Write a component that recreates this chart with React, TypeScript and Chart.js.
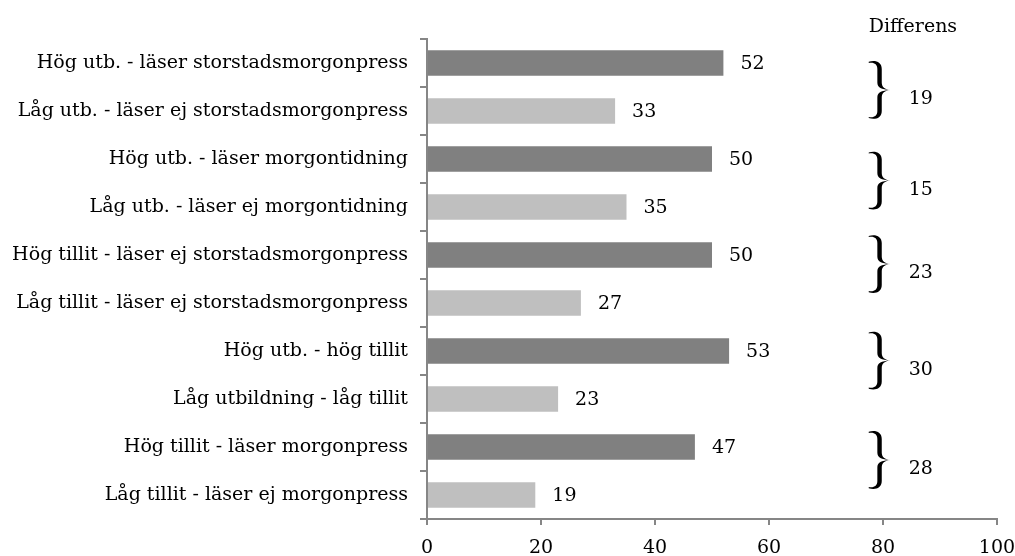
import React, { useEffect, useRef } from "react";
import { Chart, registerables } from "chart.js";

Chart.register(...registerables);

const categories = [
  "Hög utb. - läser storstadsmorgonpress",
  "Låg utb. - läser ej storstadsmorgonpress",
  "Hög utb. - läser morgontidning",
  "Låg utb. - läser ej morgontidning",
  "Hög tillit - läser ej storstadsmorgonpress",
  "Låg tillit - läser ej storstadsmorgonpress",
  "Hög utb. - hög tillit",
  "Låg utbildning - låg tillit",
  "Hög tillit - läser morgonpress",
  "Låg tillit - läser ej morgonpress",
];
const values = [52, 33, 50, 35, 50, 27, 53, 23, 47, 19];
const barColors = [
  "#808080", "#bfbfbf", "#808080", "#bfbfbf", "#808080",
  "#bfbfbf", "#808080", "#bfbfbf", "#808080", "#bfbfbf",
];
const diffValues = [19, 15, 23, 30, 28];
// brace centre positions, in category-index units
const bracePositions = [0.56, 2.45, 4.19, 6.2, 8.27];
const diffHeader = "Differens";
const xMin = 0;
const xMax = 100;
const xStep = 20;

const FONT = "'DejaVu Serif', serif";
const FSIZE = 19;
const AXIS = "#868686";

function drawBrace(ctx: CanvasRenderingContext2D, x: number, yTop: number) {
  // calligraphic right curly brace in a 22 x 58 box
  ctx.save();
  ctx.translate(x, yTop);
  ctx.beginPath();
  ctx.moveTo(0, 0.8);
  ctx.bezierCurveTo(6, -1.2, 13, 0.5, 13, 8);
  ctx.lineTo(13, 21.5);
  ctx.bezierCurveTo(13, 26, 16, 28.4, 21.5, 29);
  ctx.bezierCurveTo(16, 29.6, 13, 32, 13, 36.5);
  ctx.lineTo(13, 50);
  ctx.bezierCurveTo(13, 57.5, 6, 59.2, 0, 57.2);
  ctx.lineTo(0, 56);
  ctx.bezierCurveTo(5, 57, 8.6, 55, 8.6, 50);
  ctx.lineTo(8.6, 36.5);
  ctx.bezierCurveTo(8.6, 31.5, 12.5, 29.4, 21.5, 29);
  ctx.bezierCurveTo(12.5, 28.6, 8.6, 26.5, 8.6, 21.5);
  ctx.lineTo(8.6, 8);
  ctx.bezierCurveTo(8.6, 3, 5, 1, 0, 2);
  ctx.closePath();
  ctx.fillStyle = "#000";
  ctx.fill();
  ctx.restore();
}

const annotations = {
  id: "annotations",
  afterDatasetsDraw(chart: any) {
    const ctx = chart.ctx;
    const meta = chart.getDatasetMeta(0);
    ctx.save();
    ctx.font = `${FSIZE}px ${FONT}`;
    ctx.fillStyle = "#000";
    ctx.textAlign = "left";
    ctx.textBaseline = "middle";
    meta.data.forEach((bar: any, i: number) => {
      ctx.fillText(String(values[i]), bar.x + 17, bar.y + 1);
    });
    ctx.restore();
  },
  afterDraw(chart: any) {
    const ctx = chart.ctx;
    const xs = chart.scales.x;
    const ys = chart.scales.y;
    ctx.save();
    ctx.fillStyle = "#000";
    ctx.font = `${FSIZE}px ${FONT}`;
    ctx.textAlign = "left";
    ctx.textBaseline = "middle";
    const bx = xs.getPixelForValue(77.5);
    ctx.fillText(diffHeader, bx, 27);
    const nx = xs.getPixelForValue(84.5);
    bracePositions.forEach((p, i) => {
      const yc = ys.getPixelForValue(p);
      drawBrace(ctx, bx, yc - 29);
      ctx.fillStyle = "#000";
      ctx.font = `${FSIZE}px ${FONT}`;
      ctx.textBaseline = "middle";
      ctx.fillText(String(diffValues[i]), nx, yc + 9);
    });
    ctx.restore();
  },
};

export default function App() {
  const ref = useRef<HTMLCanvasElement | null>(null);
  useEffect(() => {
    document.body.style.margin = "0";
    const canvas = ref.current!;
    const chart = new Chart(canvas, {
      type: "bar",
      data: {
        labels: categories,
        datasets: [
          {
            data: values,
            backgroundColor: barColors,
            borderWidth: 0,
            barPercentage: 0.53,
            categoryPercentage: 1,
          },
        ],
      },
      options: {
        indexAxis: "y",
        animation: false,
        responsive: false,
        maintainAspectRatio: false,
        layout: { padding: { top: 39, right: 18, left: 0, bottom: 0 } },
        plugins: { legend: { display: false }, tooltip: { enabled: false } },
        scales: {
          x: {
            min: xMin,
            max: xMax,
            ticks: {
              stepSize: xStep,
              color: "#000",
              font: { family: FONT, size: FSIZE },
              padding: 12,
              maxRotation: 0,
            },
            grid: {
              drawOnChartArea: false,
              drawTicks: true,
              tickLength: 6,
              color: AXIS,
              lineWidth: 2,
            },
            border: { display: true, color: AXIS, width: 2 },
            afterFit: (s: any) => {
              s.height = 37;
              s.paddingLeft = 0;
              s.paddingRight = 0;
            },
          },
          y: {
            ticks: {
              color: "#000",
              font: { family: FONT, size: FSIZE },
              padding: 12,
            },
            grid: {
              drawOnChartArea: false,
              drawTicks: true,
              tickLength: 7,
              color: AXIS,
              lineWidth: 2,
              offset: true,
            },
            border: { display: true, color: AXIS, width: 2 },
            afterFit: (s: any) => {
              s.width = 427;
              s.paddingTop = 0;
              s.paddingBottom = 0;
            },
          },
        },
      },
      plugins: [annotations],
    });
    return () => chart.destroy();
  }, []);
  return (
    <div style={{ width: 1015, height: 556 }}>
      <canvas ref={ref} width={1015} height={556} style={{ display: "block" }} />
    </div>
  );
}
